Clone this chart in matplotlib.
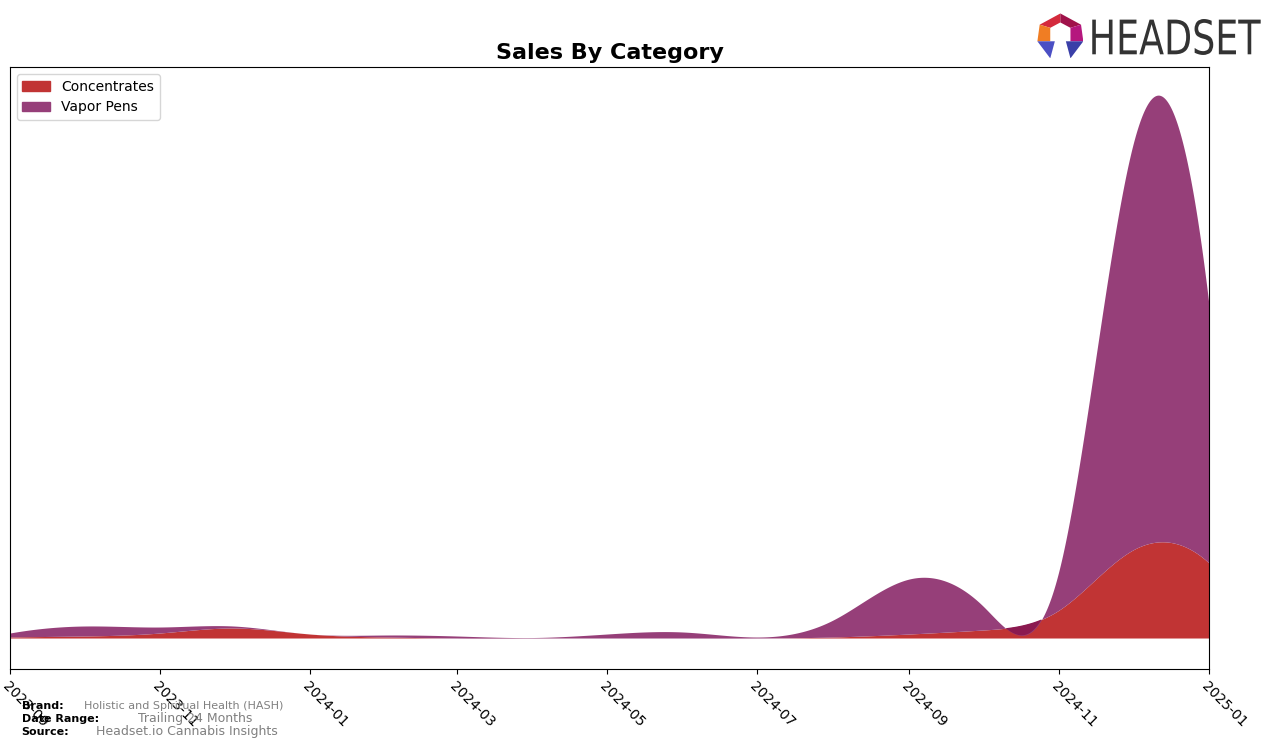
import numpy as np
import pandas as pd
import matplotlib
matplotlib.use("Agg")
import matplotlib.pyplot as plt
import matplotlib.dates as mdates
from matplotlib.patches import Patch, Polygon, PathPatch
from matplotlib.textpath import TextPath
from matplotlib.font_manager import FontProperties
from matplotlib.transforms import Affine2D

# monthly sales (arbitrary units)
months = ["2023-09", "2023-10", "2023-11", "2023-12", "2024-01", "2024-02",
          "2024-03", "2024-04", "2024-05", "2024-06", "2024-07", "2024-08",
          "2024-09", "2024-10", "2024-11", "2024-12", "2025-01"]
concentrates = [1, 2, 5, 10, 4, 1, 0, 0, 0, 0, 0, 1, 4, 8, 28, 88, 75]
vapor_pens = [4, 10, 6, 2, 0, 2, 2, 0.5, 4, 6, 1, 17, 55, 24, 40, 405, 258]
tick_labels = ["2023-09", "2023-11", "2024-01", "2024-03", "2024-05",
               "2024-07", "2024-09", "2024-11", "2025-01"]

RED = "#C13434"
PURPLE = "#963F79"


def spline(x, y, xs, ends="natural"):
    # cubic interpolating spline, just for drawing smooth curves
    x = np.asarray(x, float)
    y = np.asarray(y, float)
    n = len(x)
    h = np.diff(x)
    A = np.zeros((n, n))
    b = np.zeros(n)
    if ends == "natural":
        A[0, 0] = A[-1, -1] = 1
    else:  # not-a-knot
        A[0, 0], A[0, 1], A[0, 2] = -h[1], h[0] + h[1], -h[0]
        A[-1, -3], A[-1, -2], A[-1, -1] = -h[-1], h[-2] + h[-1], -h[-2]
    for i in range(1, n - 1):
        A[i, i - 1] = h[i - 1]
        A[i, i] = 2 * (h[i - 1] + h[i])
        A[i, i + 1] = h[i]
        b[i] = 3 * ((y[i + 1] - y[i]) / h[i] - (y[i] - y[i - 1]) / h[i - 1])
    c = np.linalg.solve(A, b)
    idx = np.clip(np.searchsorted(x, xs) - 1, 0, n - 2)
    dx = xs - x[idx]
    hi = h[idx]
    bb = (y[idx + 1] - y[idx]) / hi - hi * (2 * c[idx] + c[idx + 1]) / 3
    d = (c[idx + 1] - c[idx]) / (3 * hi)
    return y[idx] + bb * dx + c[idx] * dx ** 2 + d * dx ** 3


def smooth(x, y, xs):
    return 0.5 * spline(x, y, xs, "natural") + 0.5 * spline(x, y, xs, "notaknot")


dates = mdates.date2num(pd.to_datetime(months))
xs = np.linspace(dates[0], dates[-1], 1500)
conc_s = smooth(dates, concentrates, xs)
vape_s = smooth(dates, vapor_pens, xs)

fig = plt.figure(figsize=(12.76, 7.48), dpi=100)
ax = fig.add_axes([0.0078, 0.1056, 0.9397, 0.8048])

ax.fill_between(xs, 0, conc_s, color=RED, lw=0)
ax.fill_between(xs, conc_s, conc_s + vape_s, color=PURPLE, lw=0)
# where the vapor band folds back over the concentrates band
ax.fill_between(xs, conc_s + vape_s, conc_s, where=vape_s < 0, interpolate=True,
                color="#8B1A50", lw=0)

ax.set_xlim(dates[0], dates[-1])
ax.set_ylim(-31, 571)
ax.set_yticks([])
ticks = mdates.date2num(pd.to_datetime(tick_labels))
ax.set_xticks(ticks)
ax.set_xticklabels(tick_labels, rotation=-45, ha="left", rotation_mode="anchor",
                   fontsize=10)
ax.set_title("Sales By Category", fontsize=16, fontweight="bold", pad=6)

handles = [Patch(color=RED, label="Concentrates"),
           Patch(color=PURPLE, label="Vapor Pens")]
ax.legend(handles=handles, loc="upper left", fontsize=10)

# footer
fig.text(0.017, 0.056, "Brand:", fontsize=8, fontweight="bold", va="center")
fig.text(0.066, 0.056, "Holistic and Spiritual Health (HASH)", fontsize=8,
         color="gray", va="center")
fig.text(0.017, 0.0388, "Date Range:", fontsize=8, fontweight="bold", va="center")
fig.text(0.108, 0.0388, "Trailing 24 Months", fontsize=9, color="gray", va="center")
fig.text(0.017, 0.0214, "Source:", fontsize=8, fontweight="bold", va="center")
fig.text(0.075, 0.0214, "Headset.io Cannabis Insights", fontsize=9, color="gray",
         va="center")

# logo wordmark, squeezed into its box
tax = fig.add_axes([0.856, 0.9265, 0.132, 0.0481])
tax.axis("off")
tp = TextPath((0, 0), "HEADSET", size=10, prop=FontProperties(family="DejaVu Sans"))
ext = tp.get_extents()
tp = tp.transformed(Affine2D().translate(-ext.x0, -ext.y0)
                    .scale(1 / ext.width, 1 / ext.height))
tax.add_patch(PathPatch(tp, color="#333333", lw=0))
tax.set_xlim(0, 1)
tax.set_ylim(0, 1)

# logo icon
lax = fig.add_axes([0.813, 0.922, 0.036, 0.06])
lax.set_xlim(0, 1)
lax.set_ylim(0, 1)
lax.axis("off")
pieces = [
    ([(0.05, 0.75), (0.5, 1.0), (0.5, 0.8), (0.28, 0.68)], "#D42A3C"),
    ([(0.5, 1.0), (0.95, 0.75), (0.72, 0.68), (0.5, 0.8)], "#A0124A"),
    ([(0.05, 0.75), (0.28, 0.68), (0.28, 0.38), (0.0, 0.38)], "#F07D23"),
    ([(0.95, 0.75), (1.0, 0.38), (0.72, 0.38), (0.72, 0.68)], "#B5177E"),
    ([(0.0, 0.38), (0.38, 0.38), (0.28, 0.0)], "#4B4FC4"),
    ([(1.0, 0.38), (0.62, 0.38), (0.72, 0.0)], "#3A3FA8"),
]
for pts, col in pieces:
    lax.add_patch(Polygon(pts, closed=True, color=col, lw=0))

fig.savefig("out.png", dpi=100)
